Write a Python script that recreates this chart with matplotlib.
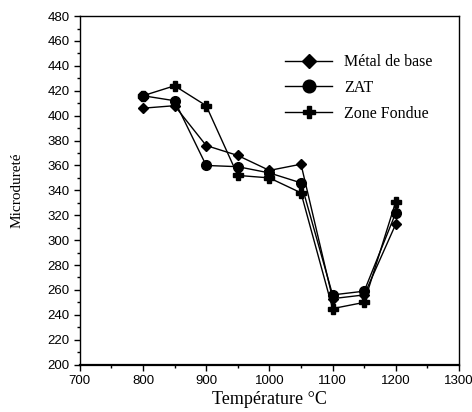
import matplotlib.pyplot as plt
from matplotlib.ticker import MultipleLocator

plt.rcParams['font.family'] = ['Liberation Serif', 'DejaVu Serif']

# temperatures (°C)
temperature = [800, 850, 900, 950, 1000, 1050, 1100, 1150, 1200]

# microhardness values
metal_de_base = [406, 408, 376, 368, 356, 361, 253, 256, 313]
zat = [416, 412, 360, 359, 354, 346, 256, 259, 322]
zone_fondue = [416, 424, 408, 352, 350, 338, 245, 250, 331]

fig = plt.figure(figsize=(4.72, 4.12), dpi=100)
ax = fig.add_axes([0.169, 0.115, 0.8035, 0.846])

ax.plot(temperature, metal_de_base, color='black', lw=1, marker='D', ms=5.5, label='Métal de base')
ax.plot(temperature, zat, color='black', lw=1, marker='o', ms=7, label='ZAT')
ax.plot(temperature, zone_fondue, color='black', lw=1, marker='P', ms=6.5, label='Zone Fondue')

ax.set_xlim(700, 1300)
ax.set_ylim(200, 480)
ax.xaxis.set_major_locator(MultipleLocator(100))
ax.xaxis.set_minor_locator(MultipleLocator(50))
ax.yaxis.set_major_locator(MultipleLocator(20))
ax.yaxis.set_minor_locator(MultipleLocator(10))
ax.tick_params(which='major', direction='out', length=4, width=1, labelsize=9.5)
ax.tick_params(which='minor', direction='out', length=2, width=1)
for lbl in ax.get_xticklabels() + ax.get_yticklabels():
    lbl.set_family('Liberation Sans')
for s in ax.spines.values():
    s.set_linewidth(1)
ax.spines['bottom'].set_linewidth(1.6)

ax.set_xlabel('Température °C', fontsize=13, labelpad=3)
ax.set_ylabel('Microdureté', fontsize=11, labelpad=17)

ax.legend(loc='upper left', bbox_to_anchor=(0.54, 0.89), frameon=False,
          fontsize=11.5, handlelength=3.0, handletextpad=0.75, labelspacing=0.6,
          borderpad=0, borderaxespad=0, markerscale=1.3)

plt.savefig('out.png', dpi=100)
